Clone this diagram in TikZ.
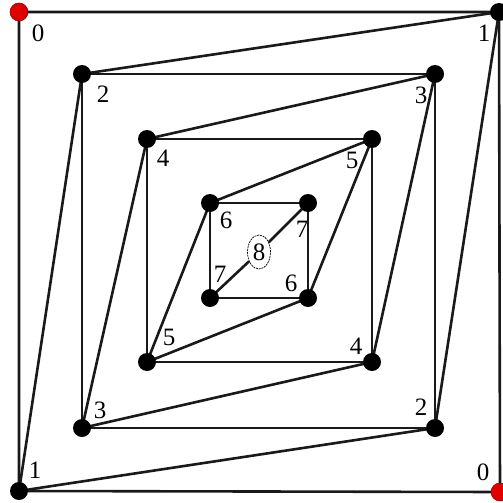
\documentclass[tikz,border=0pt]{standalone}
\usepackage{fontspec}
\setmainfont{Liberation Serif}
\usetikzlibrary{shapes.geometric}
\pgfdeclarelayer{bg}
\pgfsetlayers{bg,main}
\tikzset{
  edge/.style={line width=2.6pt, black!90},
  dot/.style={circle, fill=black, inner sep=0pt, minimum size=18pt},
  reddot/.style={circle, fill=red!88!black, draw=red!50!black, line width=0.5pt, inner sep=0pt, minimum size=18pt},
  lab/.style={font=\fontsize{25}{25}\selectfont, inner sep=0pt},
  centre/.style={ellipse, draw, line width=0.7pt, dash pattern=on 2pt off 0.8pt, fill=white, minimum width=23pt, minimum height=34pt, inner sep=0pt, font=\fontsize{25}{25}\selectfont}
}
\begin{document}
\begin{tikzpicture}[x=1pt, y=-1pt]
\useasboundingbox (0,0) rectangle (503,503);
% outer square
\node[reddot] (a0) at (19,12) {};
\node[dot] (a1) at (499,12) {};
\node[dot] (b1) at (19,491) {};
\node[reddot] (b0) at (500,492) {};
% square 2-3
\node[dot] (a2) at (82,74) {};
\node[dot] (a3) at (435,74) {};
\node[dot] (b3) at (82,428) {};
\node[dot] (b2) at (435,428) {};
% square 4-5
\node[dot] (a4) at (147,139) {};
\node[dot] (a5) at (372,139) {};
\node[dot] (b5) at (147,362) {};
\node[dot] (b4) at (372,362) {};
% square 6-7
\node[dot] (a6) at (210,203) {};
\node[dot] (a7) at (308,203) {};
\node[dot] (b7) at (210,298) {};
\node[dot] (b6) at (308,298) {};
% centre
\node[centre] (c8) at (259,252) {8};
\begin{pgfonlayer}{bg}
\draw[edge] (a0.center) -- (a1.center) -- (b0.center) -- (b1.center) -- cycle;
\draw[edge] (a2.center) -- (a3.center) -- (b2.center) -- (b3.center) -- cycle;
\draw[edge] (a4.center) -- (a5.center) -- (b4.center) -- (b5.center) -- cycle;
\draw[edge] (a6.center) -- (a7.center) -- (b6.center) -- (b7.center) -- cycle;
\draw[edge] (a1.center) -- (a2.center) -- (b1.center) -- (b2.center) -- cycle;
\draw[edge] (a3.center) -- (a4.center) -- (b3.center) -- (b4.center) -- cycle;
\draw[edge] (a5.center) -- (a6.center) -- (b5.center) -- (b6.center) -- cycle;
\draw[edge] (a7.center) -- (c8) -- (b7.center);
\end{pgfonlayer}
% labels
\node[lab] (la0) at (38,33) {0};
\node[lab] (la1) at (484,33) {1};
\node[lab] (lb1) at (35,470) {1};
\node[lab] (lb0) at (483,472) {0};
\node[lab] (la2) at (103,94) {2};
\node[lab] (la3) at (421,95) {3};
\node[lab] (lb3) at (100,410) {3};
\node[lab] (lb2) at (421,407) {2};
\node[lab] (la4) at (163,158) {4};
\node[lab] (la5) at (352,160) {5};
\node[lab] (lb5) at (169,337) {5};
\node[lab] (lb4) at (356,346) {4};
\node[lab] (la6) at (226,220) {6};
\node[lab] (la7) at (302,229) {7};
\node[lab] (lb7) at (220,274) {7};
\node[lab] (lb6) at (291,283) {6};
\end{tikzpicture}
\end{document}
